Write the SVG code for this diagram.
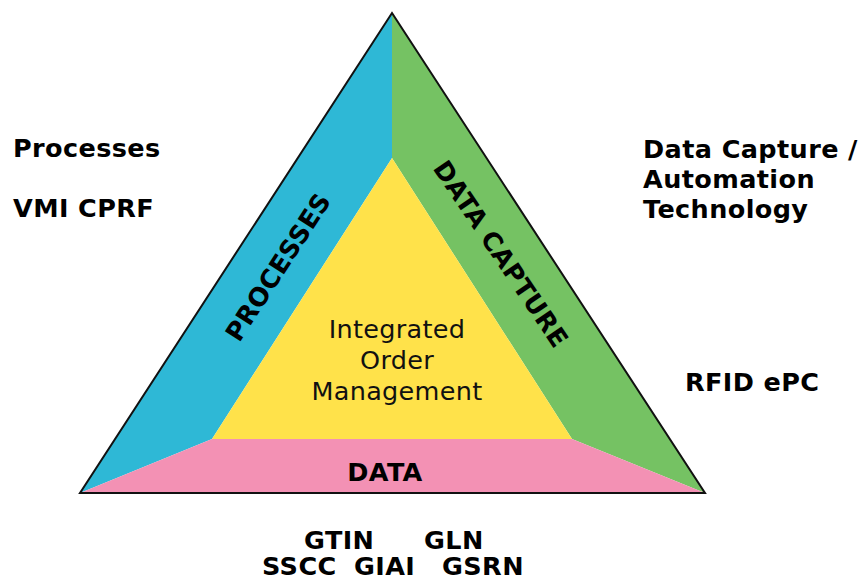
<svg xmlns="http://www.w3.org/2000/svg" width="863" height="583" viewBox="0 0 863 583">
  <style>
    .lbl { font-family: "DejaVu Sans", Verdana, sans-serif; font-weight: bold; font-size: 25.5px; letter-spacing: 0.4px; fill: #000; }
    .band { font-family: "DejaVu Sans", Verdana, sans-serif; font-weight: bold; font-size: 25.5px; letter-spacing: 0.3px; fill: #000; text-anchor: middle; }
    .core { font-family: "DejaVu Sans", Verdana, sans-serif; font-size: 25.5px; letter-spacing: 0.3px; fill: #111; text-anchor: middle; }
  </style>
  <rect width="863" height="583" fill="#fff"/>

  <!-- pyramid segments -->
  <g id="processes">
    <polygon points="392,13 392,158 212,439 80,493" fill="#2EB8D6"/>
    <text class="band" transform="translate(278,267) rotate(-57)" y="9">PROCESSES</text>
  </g>
  <g id="data-capture">
    <polygon points="392,13 705,493 572,439 392,158" fill="#75C263"/>
    <text class="band" transform="translate(501,254) rotate(56)" y="9">DATA CAPTURE</text>
  </g>
  <g id="data">
    <polygon points="80,493 212,439 572,439 705,493" fill="#F391B4"/>
    <text class="band" x="385" y="481">DATA</text>
  </g>
  <g id="order-management">
    <polygon points="392,158 572,439 212,439" fill="#FFE24A"/>
    <text class="core" x="397" y="338">Integrated</text>
    <text class="core" x="397" y="369">Order</text>
    <text class="core" x="397" y="400">Management</text>
  </g>

  <!-- outer outline -->
  <g id="connectors">
    <polygon points="392,13 705,493 80,493" fill="none" stroke="#111" stroke-width="2" stroke-linejoin="miter"/>
  </g>

  <!-- side annotations -->
  <g id="processes-notes">
    <text class="lbl" x="13" y="157">Processes</text>
    <text class="lbl" x="13" y="217">VMI CPRF</text>
  </g>
  <g id="capture-notes">
    <text class="lbl" x="643" y="158">Data Capture /</text>
    <text class="lbl" x="643" y="188">Automation</text>
    <text class="lbl" x="643" y="218">Technology</text>
    <text class="lbl" x="685" y="391">RFID ePC</text>
  </g>
  <g id="data-notes">
    <text class="lbl" x="304" y="549">GTIN</text>
    <text class="lbl" x="424" y="549">GLN</text>
    <text class="lbl" x="262" y="575">SSCC</text>
    <text class="lbl" x="354" y="575">GIAI</text>
    <text class="lbl" x="442" y="575">GSRN</text>
  </g>
</svg>
